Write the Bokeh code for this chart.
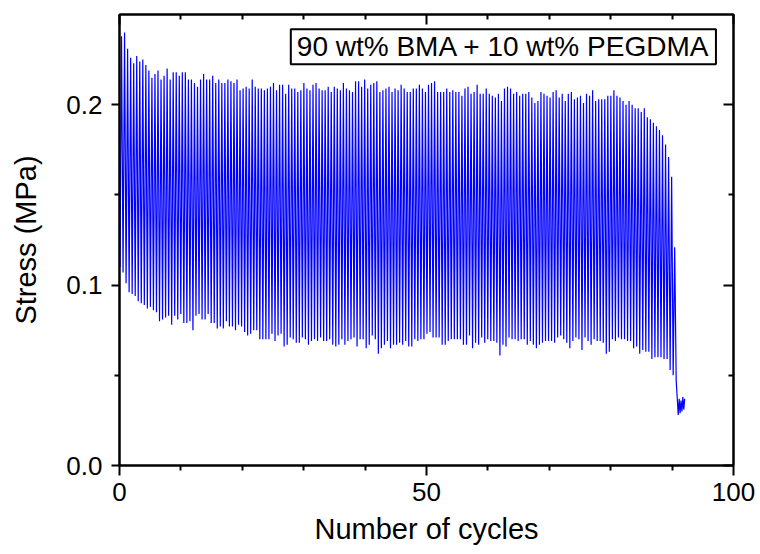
from bokeh.plotting import figure
from bokeh.models import Range1d, LinearAxis, Label, Title, FixedTicker, CustomJSTickFormatter, NumeralTickFormatter
from bokeh.embed import file_html
from bokeh.resources import INLINE

# ---------------- data ----------------
# stress maxima of each loading half-cycle, first half of the test
peaks_a = [0.238, 0.240, 0.231, 0.226, 0.223, 0.227, 0.224, 0.225, 0.222, 0.219,
           0.215, 0.217, 0.219, 0.214, 0.216, 0.220, 0.214, 0.218, 0.218, 0.216,
           0.218, 0.218, 0.214, 0.214, 0.212, 0.210, 0.214, 0.217, 0.214, 0.214,
           0.216, 0.212, 0.214, 0.212, 0.212, 0.214, 0.213, 0.212, 0.214, 0.208,
           0.209, 0.210, 0.209, 0.214, 0.210, 0.209, 0.209, 0.208, 0.209, 0.210,
           0.212, 0.208, 0.211, 0.211, 0.206, 0.211, 0.209, 0.209, 0.207, 0.208,
           0.212, 0.209, 0.208, 0.211, 0.212, 0.209, 0.208, 0.208, 0.210, 0.207,
           0.210, 0.209, 0.208, 0.212, 0.209, 0.208, 0.207, 0.213, 0.213, 0.210,
           0.214, 0.209, 0.211, 0.212, 0.213, 0.207, 0.208, 0.209, 0.210, 0.207,
           0.209, 0.208, 0.211, 0.209]
# second half of the test
peaks_b = [0.207, 0.207, 0.209, 0.209, 0.211, 0.209, 0.207, 0.211, 0.212, 0.213,
           0.207, 0.207, 0.207, 0.209, 0.207, 0.208, 0.207, 0.207, 0.205, 0.209,
           0.210, 0.206, 0.207, 0.211, 0.206, 0.206, 0.209, 0.206, 0.205, 0.204,
           0.206, 0.202, 0.209, 0.210, 0.209, 0.206, 0.207, 0.205, 0.206, 0.206,
           0.207, 0.204, 0.201, 0.202, 0.207, 0.206, 0.205, 0.204, 0.207, 0.208,
           0.204, 0.206, 0.202, 0.206, 0.207, 0.203, 0.204, 0.205, 0.201, 0.206,
           0.205, 0.208, 0.202, 0.203, 0.203, 0.203, 0.205, 0.205, 0.208, 0.205,
           0.204, 0.202, 0.200, 0.202, 0.200, 0.198, 0.198, 0.196, 0.198, 0.193,
           0.192, 0.190, 0.188, 0.186, 0.183]
# maxima just before failure
peaks_end = [0.178, 0.171, 0.160, 0.121]

# stress minima of each unloading half-cycle
troughs_a = [0.107, 0.101, 0.096, 0.095, 0.094, 0.091, 0.090, 0.089, 0.087, 0.088,
             0.086, 0.085, 0.080, 0.081, 0.082, 0.083, 0.078, 0.083, 0.081, 0.084,
             0.079, 0.079, 0.080, 0.075, 0.083, 0.084, 0.081, 0.081, 0.084, 0.079,
             0.079, 0.076, 0.077, 0.076, 0.080, 0.077, 0.077, 0.075, 0.078, 0.077,
             0.074, 0.072, 0.073, 0.075, 0.075, 0.070, 0.070, 0.070, 0.070, 0.073,
             0.069, 0.072, 0.073, 0.066, 0.067, 0.071, 0.070, 0.068, 0.068, 0.071,
             0.070, 0.067, 0.069, 0.070, 0.069, 0.071, 0.069, 0.069, 0.070, 0.067,
             0.066, 0.067, 0.070, 0.067, 0.069, 0.070, 0.071, 0.066, 0.070, 0.070,
             0.065, 0.067, 0.072, 0.070, 0.062, 0.065, 0.067, 0.069, 0.065, 0.067,
             0.067, 0.068, 0.067]
troughs_b = [0.069, 0.066, 0.066, 0.070, 0.069, 0.070, 0.070, 0.073, 0.074, 0.071,
             0.071, 0.071, 0.067, 0.067, 0.069, 0.070, 0.070, 0.070, 0.070, 0.067,
             0.067, 0.072, 0.065, 0.068, 0.067, 0.071, 0.068, 0.070, 0.069, 0.069,
             0.068, 0.061, 0.067, 0.066, 0.071, 0.070, 0.070, 0.069, 0.070, 0.070,
             0.067, 0.069, 0.067, 0.065, 0.067, 0.068, 0.069, 0.069, 0.069, 0.068,
             0.071, 0.072, 0.070, 0.068, 0.065, 0.069, 0.071, 0.070, 0.064, 0.071,
             0.069, 0.067, 0.070, 0.069, 0.069, 0.068, 0.062, 0.063, 0.070, 0.069,
             0.071, 0.070, 0.070, 0.069, 0.069, 0.065, 0.066, 0.062, 0.064, 0.063,
             0.063, 0.059, 0.060, 0.060, 0.060, 0.059, 0.059, 0.053, 0.050, 0.047]

# sampling of the cycle axis
first_peak_cycle = 0.33
peak_spacing = 0.495          # cycles between successive maxima

start_cycle = [0.08]
start_stress = [0.110]

# residual signal after the sample failed
tail_cycle = [91.00, 91.15, 91.30, 91.45, 91.60, 91.75, 91.90, 92.05]
tail_stress = [0.028, 0.037, 0.029, 0.036, 0.030, 0.038, 0.031, 0.037]

x_ticks = [0, 50, 100]
x_minor = [10, 20, 30, 40, 60, 70, 80, 90]
y_ticks = [0.0, 0.1, 0.2]
y_minor = [0.05, 0.15]

title_text = "90 wt% BMA + 10 wt% PEGDMA"
x_title = "Number of cycles"
y_title = "Stress (MPa)"

# ---------------- build the series ----------------
peaks = peaks_a + peaks_b + peaks_end
troughs = troughs_a + troughs_b
n = min(len(peaks), len(troughs))

xs = list(start_cycle)
ys = list(start_stress)
for i in range(n):
    xp = first_peak_cycle + i * peak_spacing
    xs += [xp, xp + peak_spacing / 2]
    ys += [peaks[i], troughs[i]]
xs += tail_cycle
ys += tail_stress

FONT = "Liberation Sans"

p = figure(width=760, height=554, output_backend="svg", toolbar_location=None,
           x_range=Range1d(0, 100), y_range=Range1d(0, 0.25),
           min_border_left=119, min_border_right=27, min_border_top=14, min_border_bottom=89,
           y_axis_label=y_title)
p.grid.visible = False
p.outline_line_color = "black"
p.outline_line_width = 2
p.background_fill_color = "white"
p.border_fill_color = "white"

p.line(xs, ys, line_color="#0000ff", line_width=1.2)

xt = FixedTicker(ticks=x_ticks, minor_ticks=x_minor)
yt = FixedTicker(ticks=y_ticks, minor_ticks=y_minor)

for ax in p.xaxis + p.yaxis:
    ax.axis_line_width = 2
    ax.axis_line_color = "black"
    ax.major_tick_line_width = 2
    ax.minor_tick_line_width = 2
    ax.major_tick_in = 0
    ax.minor_tick_out = 5
    ax.minor_tick_in = 0
    ax.major_label_text_font = FONT
    ax.major_label_text_font_size = "26px"
    ax.major_label_text_color = "black"
    ax.axis_label_text_font = FONT
    ax.axis_label_text_font_size = "29px"
    ax.axis_label_text_font_style = "normal"
    ax.axis_label_text_color = "black"

p.xaxis.ticker = xt
p.yaxis.ticker = yt
p.yaxis.formatter = NumeralTickFormatter(format="0.0")
p.xaxis.major_tick_out = 10
p.xaxis.major_label_standoff = 7
p.yaxis.major_tick_out = 8
p.yaxis.major_label_standoff = 9
p.yaxis.axis_label_standoff = 21

# x-axis title as a panel below the axis
xtitle = Title(text=x_title, align="center", text_font=FONT, text_font_size="29px",
               text_font_style="normal", text_color="black", standoff=14, offset=0)
p.add_layout(xtitle, "below")

empty = CustomJSTickFormatter(code="return ''")
top = LinearAxis(ticker=FixedTicker(ticks=x_ticks, minor_ticks=x_minor), formatter=empty)
right = LinearAxis(ticker=FixedTicker(ticks=y_ticks, minor_ticks=y_minor), formatter=empty)
for ax in (top, right):
    ax.axis_line_width = 2
    ax.major_tick_line_width = 2
    ax.minor_tick_line_width = 2
    ax.major_tick_in = 10
    ax.major_tick_out = 0
    ax.minor_tick_in = 5
    ax.minor_tick_out = 0
    ax.major_label_standoff = 0
    ax.major_label_text_font_size = "1px"
p.add_layout(top, "above")
p.add_layout(right, "right")

lbl = Label(x=27.9, y=0.2418, text=title_text, text_font=FONT, text_font_size="28px",
            text_color="black", text_align="left", text_baseline="top",
            border_line_color="black", border_line_width=2,
            background_fill_color="white", padding=(6, 2))
p.add_layout(lbl)

open("out.html", "w").write(file_html(p, INLINE))
